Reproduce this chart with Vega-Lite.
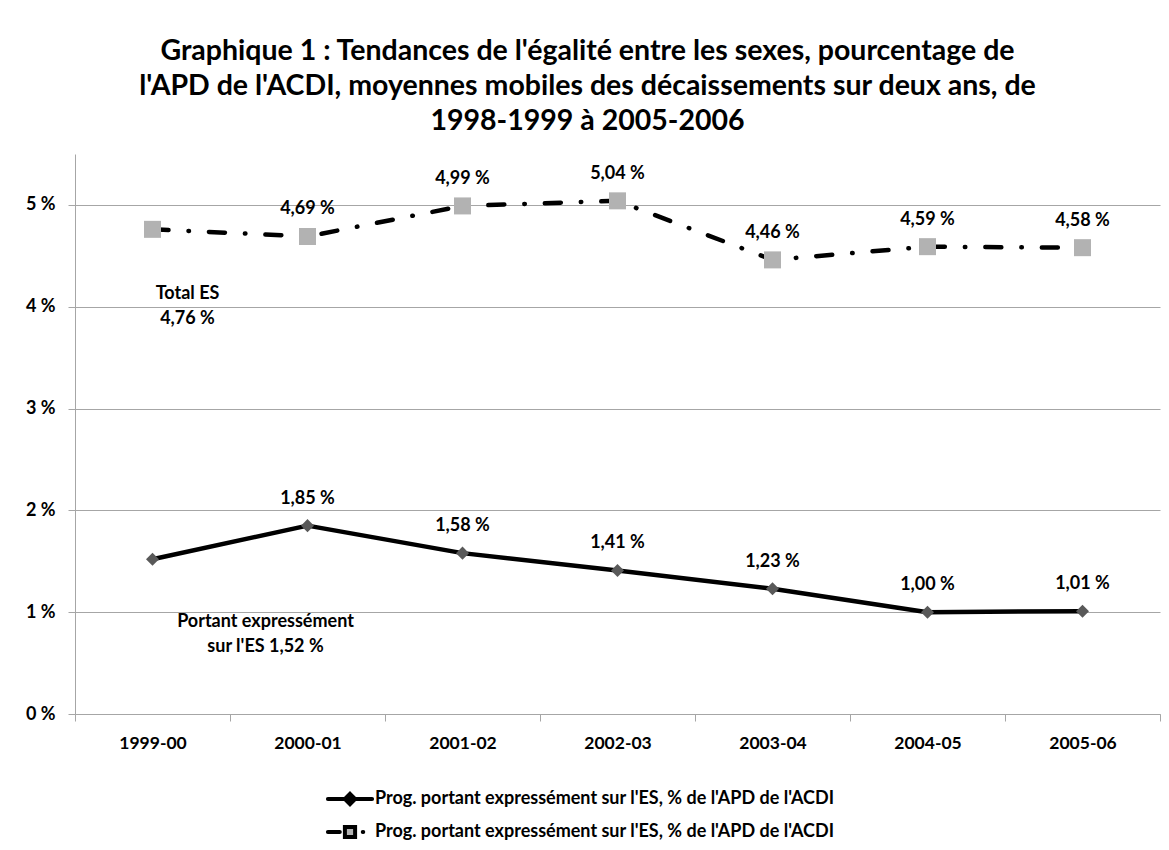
{
  "$schema": "https://vega.github.io/schema/vega-lite/v6.json",
  "width": 1085,
  "height": 560,
  "autosize": {"type": "none"},
  "padding": {"left": 75, "top": 154, "right": 9, "bottom": 136},
  "background": "white",
  "title": {
    "text": ["Graphique 1 :  Tendances de l'égalité entre les sexes, pourcentage de", "l'APD de l'ACDI, moyennes mobiles des décaissements sur deux ans, de", "1998-1999 à 2005-2006"],
    "fontSize": 28.5,
    "fontWeight": "bold",
    "lineHeight": 35,
    "anchor": "middle",
    "dx": -30,
    "offset": 19,
    "color": "black",
    "font": "Lato"
  },
  "config": {"font": "Lato", "view": {"stroke": null}},
  "data": {
    "values": [
      {"period": "1999-00", "series": "Total", "value": 4.76, "label": "4,76 %"},
      {"period": "2000-01", "series": "Total", "value": 4.69, "label": "4,69 %"},
      {"period": "2001-02", "series": "Total", "value": 4.99, "label": "4,99 %"},
      {"period": "2002-03", "series": "Total", "value": 5.04, "label": "5,04 %"},
      {"period": "2003-04", "series": "Total", "value": 4.46, "label": "4,46 %"},
      {"period": "2004-05", "series": "Total", "value": 4.59, "label": "4,59 %"},
      {"period": "2005-06", "series": "Total", "value": 4.58, "label": "4,58 %"},
      {"period": "1999-00", "series": "Portant", "value": 1.52, "label": "1,52 %"},
      {"period": "2000-01", "series": "Portant", "value": 1.85, "label": "1,85 %"},
      {"period": "2001-02", "series": "Portant", "value": 1.58, "label": "1,58 %"},
      {"period": "2002-03", "series": "Portant", "value": 1.41, "label": "1,41 %"},
      {"period": "2003-04", "series": "Portant", "value": 1.23, "label": "1,23 %"},
      {"period": "2004-05", "series": "Portant", "value": 1.00, "label": "1,00 %"},
      {"period": "2005-06", "series": "Portant", "value": 1.01, "label": "1,01 %"}
    ]
  },
  "encoding": {
    "x": {
      "field": "period",
      "type": "ordinal",
      "bandPosition": 0.5,
      "scale": {"type": "band", "paddingInner": 0, "paddingOuter": 0},
      "axis": {
        "title": null,
        "labelAngle": 0,
        "labelFontSize": 17.5,
        "labelFontWeight": "bold",
        "labelColor": "black",
        "domainColor": "#a6a6a6",
        "tickColor": "#a6a6a6",
        "tickSize": 7,
        "tickBand": "extent",
        "labelPadding": 13,
        "grid": false
      }
    },
    "y": {
      "field": "value",
      "type": "quantitative",
      "scale": {"domain": [0, 5.5], "nice": false},
      "axis": {
        "title": null,
        "values": [0, 1, 2, 3, 4, 5],
        "labelExpr": "datum.value + ' %'",
        "labelFontSize": 18,
        "labelFontWeight": "bold",
        "labelColor": "black",
        "domainColor": "#a6a6a6",
        "tickColor": "#a6a6a6",
        "tickSize": 7,
        "gridColor": "#a6a6a6",
        "labelPadding": 13
      }
    }
  },
  "layer": [
    {
      "transform": [{"filter": "datum.series === 'Portant'"}],
      "mark": {"type": "line", "strokeWidth": 4.5, "strokeCap": "round", "strokeJoin": "round"},
      "encoding": {
        "color": {
          "field": "series",
          "type": "nominal",
          "scale": {"domain": ["Portant", "Total"], "range": ["black", "black"]},
          "legend": {
            "title": null,
            "orient": "none",
            "legendX": 256,
            "legendY": 626,
            "direction": "vertical",
            "labelFontSize": 18,
            "labelFontWeight": "bold",
            "labelColor": "black",
            "labelLimit": 800,
            "labelOffset": 6,
            "symbolSize": 1156,
            "rowPadding": 0,
            "padding": 0,
            "labelExpr": "\"Prog. portant expressément sur l'ES,  % de l'APD de l'ACDI\"",
            "encode": {
              "symbols": {
                "update": {
                  "shape": {"signal": "datum.value === 'Portant' ? 'M-1.3,0L1.3,0M0,-0.3L0.3,0L0,0.3L-0.3,0Z' : 'M-1.3,0L-0.6,0M-0.3,-0.3L0.3,-0.3L0.3,0.3L-0.3,0.3ZM0.75,0L0.78,0'"},
                  "size": {"value": 1156},
                  "fill": {"signal": "datum.value === 'Portant' ? '#595959' : '#b2b2b2'"},
                  "stroke": {"value": "black"},
                  "strokeWidth": {"value": 4},
                  "strokeDash": {"value": []},
                  "strokeCap": {"value": "round"},
                  "opacity": {"value": 1}
                }
              }
            }
          }
        }
      }
    },
    {
      "transform": [{"filter": "datum.series === 'Total'"}],
      "mark": {"type": "line", "strokeWidth": 4.5, "strokeCap": "round", "strokeJoin": "round", "color": "black", "strokeDash": [16, 20, 0.5, 20]}
    },
    {
      "transform": [{"filter": "datum.series === 'Portant'"}],
      "mark": {"type": "point", "shape": "diamond", "filled": true, "opacity": 1, "strokeWidth": 0, "fill": "#595959", "size": 170}
    },
    {
      "transform": [{"filter": "datum.series === 'Total'"}],
      "mark": {"type": "point", "shape": "square", "filled": true, "opacity": 1, "strokeWidth": 0, "fill": "#b2b2b2", "size": 289}
    },
    {
      "transform": [{"filter": "datum.period !== '1999-00'"}],
      "mark": {"type": "text", "dy": -27, "fontSize": 18, "fontWeight": "bold", "color": "black", "baseline": "middle"},
      "encoding": {"text": {"field": "label", "type": "nominal"}}
    },
    {
      "transform": [{"filter": "datum.period === '1999-00' && datum.series === 'Total'"}],
      "mark": {"type": "text", "dx": 35, "dy": 65, "fontSize": 18, "fontWeight": "bold", "color": "black", "baseline": "middle", "lineBreak": "\n", "lineHeight": 25},
      "encoding": {"text": {"value": "Total ES\n4,76 %"}}
    },
    {
      "transform": [{"filter": "datum.period === '1999-00' && datum.series === 'Portant'"}],
      "mark": {"type": "text", "dx": 113, "dy": 63, "fontSize": 18, "fontWeight": "bold", "color": "black", "baseline": "middle", "lineBreak": "\n", "lineHeight": 25},
      "encoding": {"text": {"value": "Portant expressément\nsur  l'ES 1,52 %"}}
    }
  ]
}
